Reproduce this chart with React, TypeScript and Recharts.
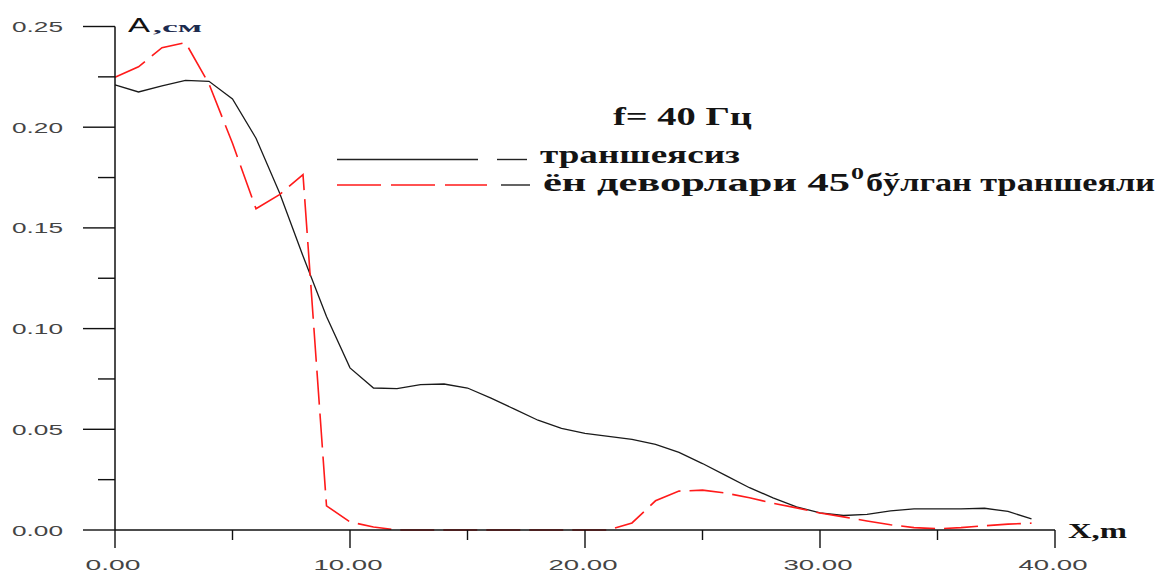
import { LineChart, Line, XAxis, YAxis, Legend } from "recharts";

// distance from the source, m
const X_M = [
  0, 1, 2, 3, 4, 5, 6, 7, 8, 9, 10, 11, 12, 13, 14, 15, 16, 17, 18, 19,
  20, 21, 22, 23, 24, 25, 26, 27, 28, 29, 30, 31, 32, 33, 34, 35, 36, 37, 38, 39,
];

// amplitude A, cm — without trench
const NO_TRENCH = [
  0.221, 0.2175, 0.2205, 0.2232, 0.2228, 0.214, 0.1945, 0.1675, 0.136, 0.106,
  0.0805, 0.0705, 0.0702, 0.0722, 0.0725, 0.0705, 0.0655, 0.06, 0.0545, 0.0505,
  0.048, 0.0465, 0.045, 0.0425, 0.0385, 0.033, 0.027, 0.021, 0.016, 0.0115,
  0.0085, 0.0072, 0.0078, 0.0095, 0.0105, 0.0105, 0.0105, 0.0108, 0.0092, 0.0055,
];

// amplitude A, cm — trench with 45° side walls
const TRENCH_45 = [
  0.2248, 0.23, 0.2395, 0.242, 0.2215, 0.192, 0.1595, 0.1665, 0.1765, 0.012,
  0.004, 0.0015, 0, 0, 0, 0, 0, 0, 0, 0,
  0, 0, 0.0035, 0.0145, 0.0193, 0.0198, 0.0183, 0.016, 0.0133, 0.011,
  0.0084, 0.0065, 0.0045, 0.0026, 0.0012, 0.0006, 0.0012, 0.0021, 0.0029, 0.0034,
];

const Y_TICKS = [0, 0.025, 0.05, 0.075, 0.1, 0.125, 0.15, 0.175, 0.2, 0.225, 0.25];
const X_TICKS = [0, 5, 10, 15, 20, 25, 30, 35, 40];

const SERIF = "'Liberation Serif', 'Times New Roman', serif";
const SANS = "'Liberation Sans', Arial, sans-serif";

const data = X_M.map((x, i) => ({
  x,
  noTrench: NO_TRENCH[i],
  trench45: TRENCH_45[i],
}));

function YTick({ x, y, payload, index }: any) {
  const major = index % 2 === 0;
  return (
    <g>
      <line x1={x - (major ? 32 : 17)} x2={x} y1={y} y2={y} stroke="#111" strokeWidth={1.4} />
      {major && (
        <text
          x={x - 103}
          y={y + 5.5}
          style={{ fontFamily: SANS }}
          fontSize={15}
          fill="#444"
          textLength={51}
          lengthAdjust="spacingAndGlyphs"
        >
          {Number(payload.value).toFixed(2)}
        </text>
      )}
    </g>
  );
}

function XTick({ x, y, payload }: any) {
  const major = payload.value % 10 === 0;
  const label = Number(payload.value).toFixed(2);
  return (
    <g>
      <line x1={x} x2={x} y1={y} y2={y + (major ? 18 : 10)} stroke="#111" strokeWidth={1.4} />
      {major && (
        <text
          x={x - 2}
          y={y + 40}
          textAnchor="middle"
          style={{ fontFamily: SANS }}
          fontSize={15}
          fill="#444"
          textLength={label.length > 4 ? 69 : 55}
          lengthAdjust="spacingAndGlyphs"
        >
          {label}
        </text>
      )}
    </g>
  );
}

// axis titles, frequency note and the legend rows
function ChartNotes() {
  const note = {
    style: { fontFamily: SERIF, fontWeight: 700 },
    fill: "#141414",
    lengthAdjust: "spacingAndGlyphs",
  } as const;
  return (
    <svg width={1159} height={572} style={{ position: "absolute", left: 0, top: 0 }}>
      <text x={128} y={31.5} style={{ fontFamily: SANS }} fontSize={21} fill="#111" textLength={22} lengthAdjust="spacingAndGlyphs">
        A
      </text>
      <text x={153} y={32} {...note} fill="#1d2b4f" fontSize={15} textLength={49}>
        ,см
      </text>
      <text x={1068} y={538} {...note} fontSize={22} textLength={59}>
        X,m
      </text>
      <text x={613} y={125} {...note} fontSize={26} textLength={139}>
        f= 40 Гц
      </text>

      <line x1={337} x2={478} y1={159.5} y2={159.5} stroke="#222" strokeWidth={1.4} />
      <line x1={497} x2={527} y1={159.5} y2={159.5} stroke="#222" strokeWidth={1.4} />
      <text x={540} y={163} {...note} fontSize={26} textLength={200}>
        траншеясиз
      </text>

      <line x1={337} x2={487} y1={185} y2={185} stroke="#ff1a1a" strokeWidth={1.5} strokeDasharray="44 10" />
      <line x1={501} x2={530} y1={185} y2={185} stroke="#222" strokeWidth={1.4} />
      <text x={543} y={191} {...note} fontSize={26} textLength={307}>
        ён деворлари 45
      </text>
      <text x={851} y={179} {...note} fontSize={16} textLength={13}>
        0
      </text>
      <text x={866} y={191} {...note} fontSize={26} textLength={289}>
        бўлган траншеяли
      </text>
    </svg>
  );
}

export default function App() {
  return (
    <div style={{ position: "absolute", left: 0, top: 0, width: 1159, height: 572, background: "#fff" }}>
      <LineChart
        width={1159}
        height={572}
        data={data}
        margin={{ top: 26.5, right: 104, left: 0, bottom: 0 }}
      >
        <XAxis
          dataKey="x"
          type="number"
          domain={[0, 40]}
          ticks={X_TICKS}
          interval={0}
          height={42}
          tickSize={0}
          tickMargin={0}
          tickLine={false}
          axisLine={{ stroke: "#111", strokeWidth: 1.5 }}
          tick={(p: any) => <XTick {...p} />}
        />
        <YAxis
          type="number"
          domain={[0, 0.25]}
          ticks={Y_TICKS}
          interval={0}
          width={115}
          tickSize={0}
          tickMargin={0}
          tickLine={false}
          axisLine={{ stroke: "#111", strokeWidth: 1.5 }}
          tick={(p: any) => <YTick {...p} />}
        />
        <Legend
          layout="horizontal"
          align="center"
          verticalAlign="middle"
          content={<ChartNotes />}
          wrapperStyle={{ left: 0, top: 0, width: 1159, height: 572, pointerEvents: "none" }}
        />
        <Line
          type="linear"
          dataKey="noTrench"
          name="траншеясиз"
          stroke="#1a1a1a"
          strokeWidth={1.3}
          dot={false}
          activeDot={false}
          isAnimationActive={false}
        />
        <Line
          type="linear"
          dataKey="trench45"
          name="ён деворлари 45° бўлган траншеяли"
          stroke="#ff1a1a"
          strokeWidth={1.6}
          strokeDasharray="34 9"
          dot={false}
          activeDot={false}
          isAnimationActive={false}
        />
      </LineChart>
    </div>
  );
}
